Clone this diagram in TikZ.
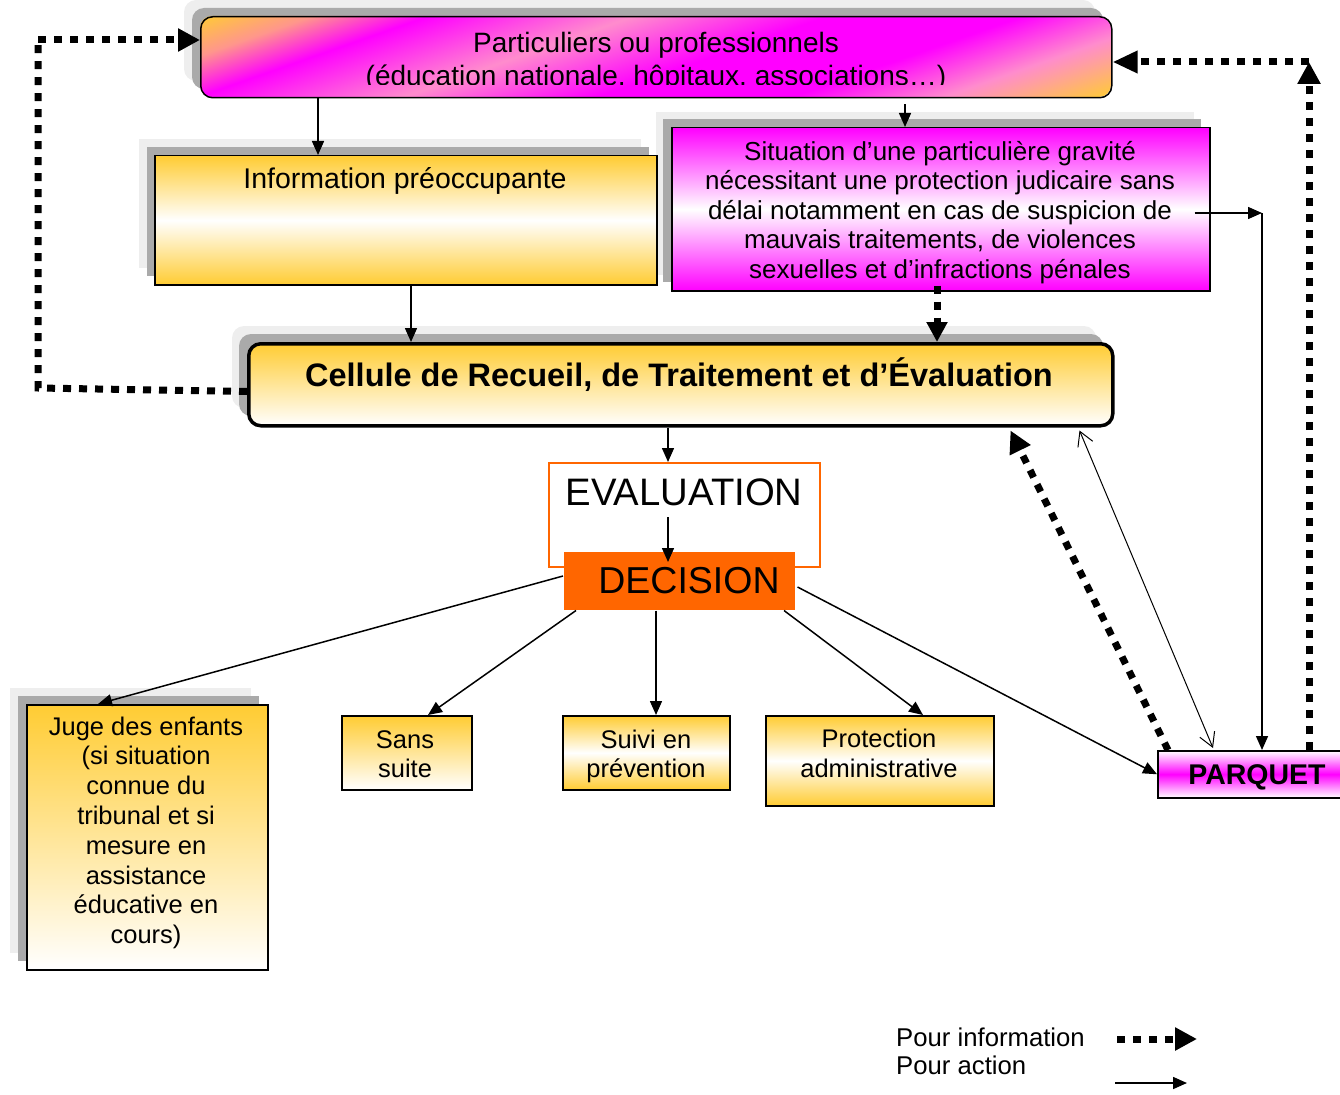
\documentclass[tikz,border=0pt]{standalone}
\usepackage{fontspec}
\setmainfont{Liberation Sans}
\usetikzlibrary{arrows.meta,calc}
\definecolor{gold}{RGB}{255,204,51}
\definecolor{mag}{RGB}{255,0,255}
\definecolor{pinkish}{RGB}{255,140,205}
\definecolor{orpk}{RGB}{255,150,140}
\definecolor{orng}{RGB}{255,102,0}
\definecolor{shdark}{RGB}{170,170,170}
\definecolor{shlight}{RGB}{238,238,238}
\pgfdeclarehorizontalshading{topgrad}{100bp}{color(0bp)=(gold); color(39.76bp)=(gold); color(41.8bp)=(orpk); color(43.86bp)=(mag); color(47.54bp)=(pinkish); color(51bp)=(mag); color(54.5bp)=(mag); color(57.2bp)=(pinkish); color(60.24bp)=(gold); color(100bp)=(gold)}
\begin{document}
\begin{tikzpicture}[x=1pt,y=-1pt,
  box/.style={draw=black, line width=1.5pt, inner sep=0pt, anchor=north west},
  gwg/.style={top color=gold, bottom color=gold, middle color=white},
  gw/.style={top color=gold, bottom color=white},
  act/.style={line width=1.5pt, -{Triangle[length=14pt,width=12pt]}},
  info/.style={line width=7pt, dash pattern=on 8pt off 8pt, line join=miter, -{Triangle[length=22pt,width=22pt]}},
  txt/.style={align=center, anchor=base, inner sep=0pt, font=\fontsize{26}{29.5}\selectfont},
  shl/.style={fill=shlight},
  shd/.style={fill=shdark}]
\useasboundingbox (0,0) rectangle (1340,1094);

% shadows
\fill[shl, rounded corners=12pt] (184,0) rectangle +(911,81);
\fill[shd, rounded corners=12pt] (192,8) rectangle +(911,81);
\fill[shl] (139,139) rectangle +(502,129);
\fill[shd] (147,147) rectangle +(502,129);
\fill[shl] (656,112) rectangle +(538,163);
\fill[shd] (663,119) rectangle +(538,163);
\fill[shl, rounded corners=12pt] (232,326) rectangle +(864,82);
\fill[shd, rounded corners=12pt] (239,334) rectangle +(864,82);
\fill[shl] (10,688) rectangle +(241,265);
\fill[shd] (18,696) rectangle +(241,265);

% top box gradient
\begin{scope}
\clip[rounded corners=12pt] (200,16) rectangle (1111,97);
\shade[shading=topgrad, shading angle=-70.7] (195.5,-403.5) rectangle (1115.5,516.5);
\end{scope}

% boxes
\node[box, rounded corners=12pt, minimum width=911pt, minimum height=81pt] (top) at (200,16) {};
\node[box, gwg, minimum width=502pt, minimum height=129pt] (info) at (154,155) {};
\node[box, top color=mag, bottom color=mag, middle color=white, minimum width=538pt, minimum height=163pt] (sit) at (671,127) {};
\node[box, line width=3.5pt, rounded corners=12pt, gw, minimum width=864pt, minimum height=82pt] (cel) at (247,342) {};
\node[box, draw=orng, fill=white, minimum width=271pt, minimum height=104pt] (eval) at (548,462) {};
\node[box, draw=none, fill=orng, minimum width=231pt, minimum height=58pt] (dec) at (563,551) {};
\node[box, gw, minimum width=241pt, minimum height=265pt] (juge) at (26,704) {};
\node[box, gw, minimum width=130pt, minimum height=74pt] (sans) at (341,715) {};
\node[box, gwg, minimum width=167pt, minimum height=74pt] (suivi) at (562,715) {};
\node[box, gwg, minimum width=228pt, minimum height=90pt] (prot) at (765,715) {};
\node[box, top color=white, bottom color=white, middle color=mag, minimum width=190pt, minimum height=47pt] (parq) at (1157,750) {};

% texts (anchor base = baseline of last line)
\begin{scope}
\clip (200,0) rectangle (1111,85);
\node[txt, font=\fontsize{28}{33}\selectfont] (ttop) at (656,86) {Particuliers ou professionnels\\(éducation nationale, hôpitaux, associations…)};
\end{scope}
\node[txt, font=\fontsize{28.5}{33}\selectfont] (tinfo) at (405,189) {Information préoccupante};
\node[txt] (tsit) at (940,278) {Situation d’une particulière gravité\\nécessitant une protection judicaire sans\\délai notamment en cas de suspicion de\\mauvais traitements, de violences\\sexuelles et d’infractions pénales};
\node[txt, font=\fontsize{32.5}{36}\selectfont\bfseries] (tcel) at (679,386) {Cellule de Recueil, de Traitement et d’Évaluation};
\node[txt, font=\fontsize{38.3}{42}\selectfont] (teval) at (684,505) {EVALUATION};
\node[txt, font=\fontsize{37.5}{42}\selectfont] (tdec) at (689,593) {DECISION};
\node[txt, font=\fontsize{25.5}{29.8}\selectfont] (tjuge) at (146,943.6) {Juge des enfants\\(si situation\\connue du\\tribunal et si\\mesure en\\assistance\\éducative en\\cours)};
\node[txt, font=\fontsize{25.5}{29}\selectfont] (tsans) at (405,777) {Sans\\suite};
\node[txt, font=\fontsize{25.5}{29}\selectfont] (tsuivi) at (646,777) {Suivi en\\prévention};
\node[txt, font=\fontsize{25.5}{30}\selectfont] (tprot) at (879,777) {Protection\\administrative};
\node[txt, font=\fontsize{28.5}{33}\selectfont\bfseries] (tparq) at (1257,784) {PARQUET};
\node[txt, anchor=base west, font=\fontsize{25.7}{29}\selectfont] (leg1) at (896,1046) {Pour information};
\node[txt, anchor=base west, font=\fontsize{25.7}{29}\selectfont] (leg2) at (896,1074) {Pour action};

% coordinates
\coordinate (a1) at ($(top.south west)+(118,0)$);
\coordinate (a2) at ($(top.south west)+(705,6)$);
\coordinate (a3) at ($(info.south west)+(257,0)$);
\coordinate (a4) at ($(sit.south west)+(266,-6)$);
\coordinate (a5) at ($(cel.south west)+(421,0)$);
\coordinate (a6) at (668,517);
\coordinate (a7) at ($(a6 |- dec.north)+(0,11)$);
\coordinate (d1) at ($(dec.north west)+(0,25)$);
\coordinate (d2) at ($(dec.south west)+(13,0)$);
\coordinate (d3) at ($(dec.south west)+(93,0)$);
\coordinate (d4) at ($(dec.south west)+(221,0)$);
\coordinate (d5) at ($(dec.north east)+(2,36)$);
\coordinate (s1) at ($(sit.north east)+(-16,86)$);
\coordinate (pT) at ($(parq.north west)+(105,0)$);
\coordinate (pD) at ($(parq.north west)+(152,0)$);
\coordinate (pA) at ($(parq.north west)+(11,0)$);
\coordinate (pB) at ($(parq.north west)+(56,-2)$);
\coordinate (cA) at ($(cel.south east)+(-104,3)$);
\coordinate (cB) at ($(cel.south east)+(-35,3)$);
\coordinate (cR) at (1309,62);
\coordinate (lA) at ($(cel.south west)+(0,-36)$);
\coordinate (lB) at (38,388);
\coordinate (lC) at (38,40);
\coordinate (g1a) at (1117,1039);
\coordinate (g1b) at (1197,1039);
\coordinate (g2a) at (1115,1083);
\coordinate (g2b) at (1187,1083);

% connectors
\draw[act] (a1) -- (a1 |- info.north);
\draw[act] (a2) -- (a2 |- sit.north);
\draw[act] (a3) -- (a3 |- cel.north);
\draw[info, -{Triangle[length=20pt,width=20pt]}] (a4) -- (a4 |- cel.north);
\draw[act] (a5) -- (a5 |- eval.north);
\draw[act] (a6) -- (a7);
\draw[act] (d1) -- ($(juge.north west)+(72,0)$);
\draw[act] (d2) -- ($(sans.north west)+(87,0)$);
\draw[act] (d3) -- (d3 |- suivi.north);
\draw[act] (d4) -- ($(prot.north west)+(158,0)$);
\draw[act] (d5) -- (parq.west);
\draw[act] (s1) -- (s1 -| pT);
\draw[act] (s1 -| pT) -- (pT);
\draw[info] (pA) -- (cA);
\draw[line width=1pt, {Straight Barb[length=14pt,width=16pt]}-{Straight Barb[length=14pt,width=16pt]}] (cB) -- (pB);
\draw[info] (pD) -- (cR);
\draw[info, -{Triangle[length=25pt,width=21pt]}] (cR) -- (cR -| top.east);
\draw[info, -] (lA) -- (lB) -- (lC);
\draw[info] (lC) -- (lC -| top.west);
\draw[info] (g1a) -- (g1b);
\draw[act] (g2a) -- (g2b);
\end{tikzpicture}
\end{document}
